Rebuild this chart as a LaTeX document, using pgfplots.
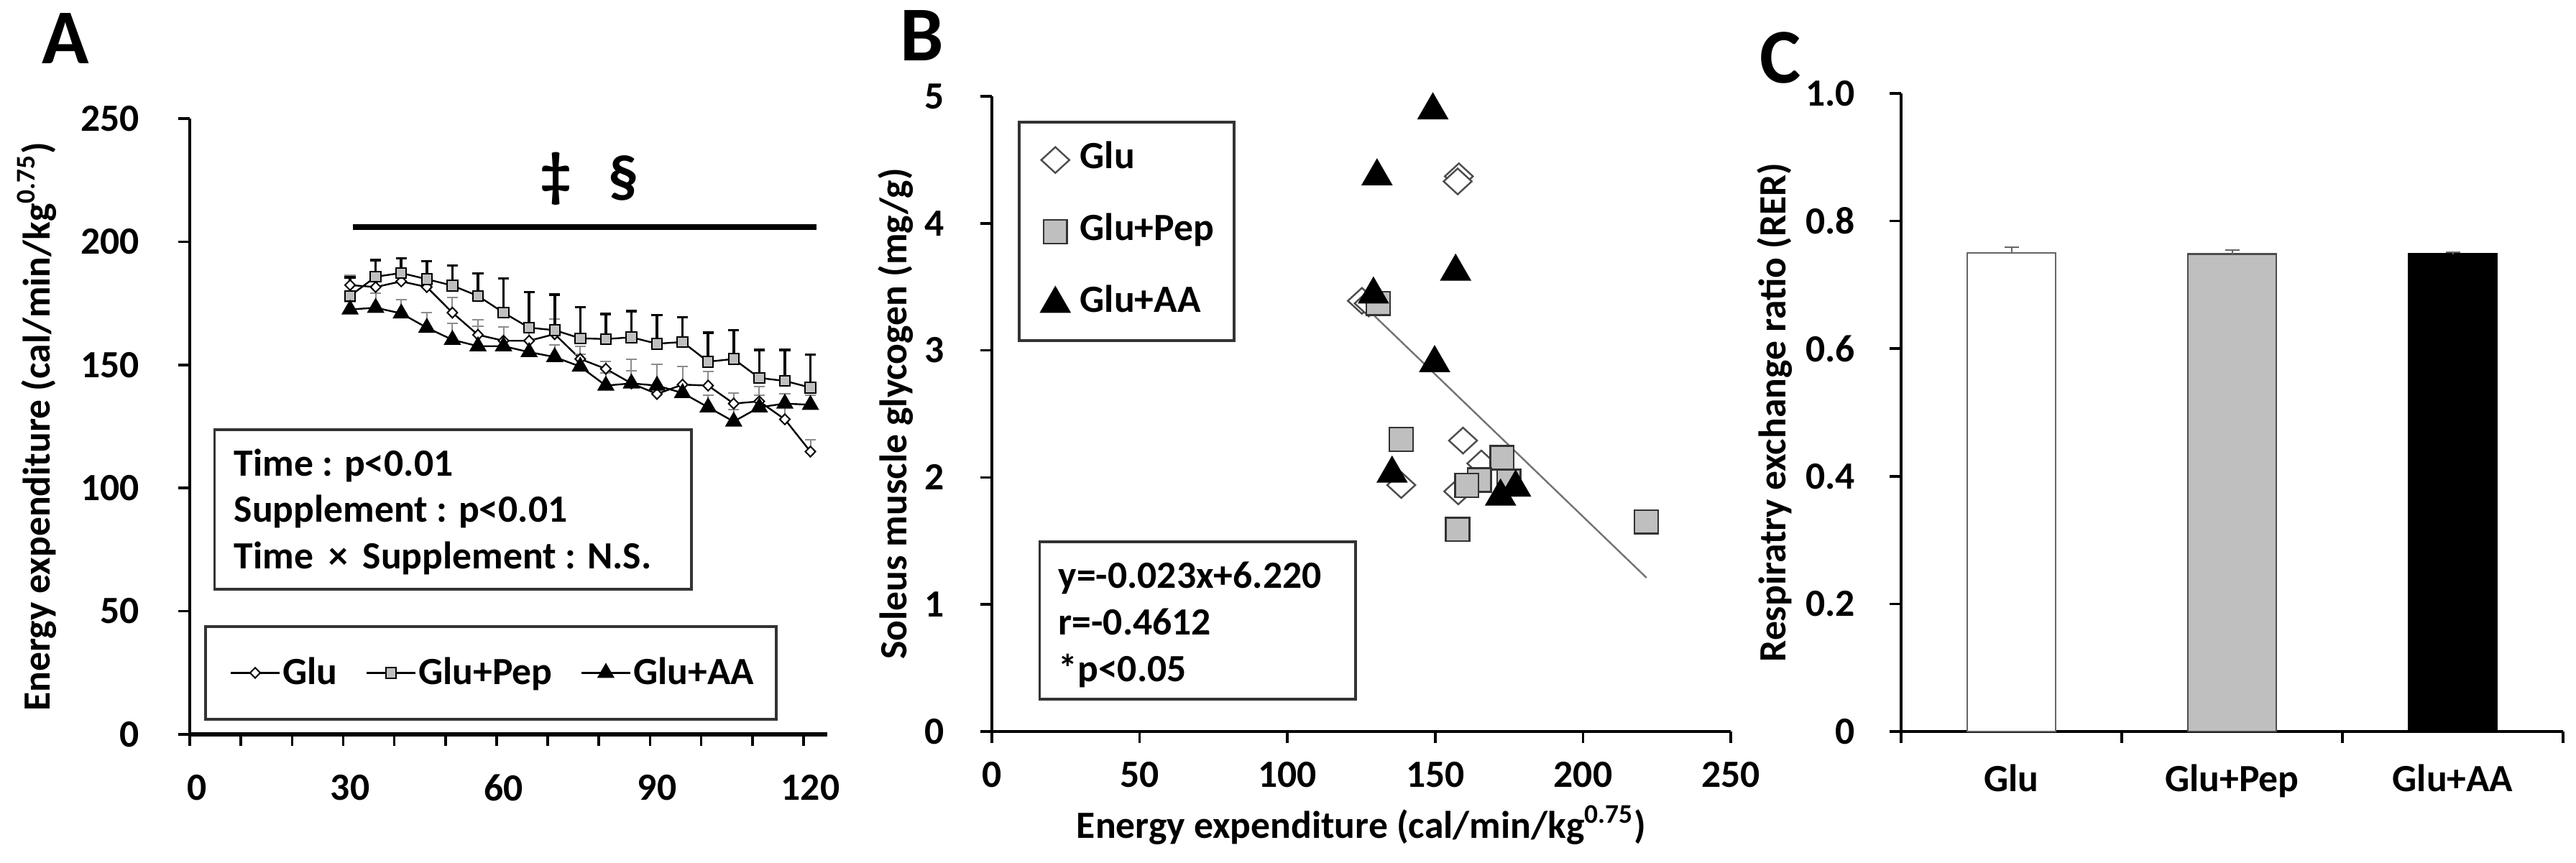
\documentclass[border=0pt]{standalone}
\usepackage{fontspec}
\setmainfont{Carlito}
\usepackage{pgfplots}
\usepackage{pgfplotstable}
\pgfplotsset{compat=1.18}
\newcommand\fT{\fontsize{13.4bp}{15bp}\selectfont\bfseries}
\newcommand\fP{\fontsize{27bp}{30bp}\selectfont\bfseries}

\pgfplotstableread{
t v e
30 182.4 4
35 181.6 4
40 183.9 4
45 181.6 4
50 171.2 6.3
55 162.2 6.1
60 159.8 5.6
65 159.8 5
70 162.5 6.1
75 152.4 5.2
80 148.4 3
85 142.5 9.8
90 138.2 12
95 142.0 7.3
100 141.6 5.8
105 134.3 4.3
110 135.2 5.9
115 127.9 5
120 114.8 4.9
}\gluA
\pgfplotstableread{
t v e
30 178.0 7.5
35 185.8 6.8
40 187.3 6.0
45 184.8 7.3
50 182.2 8.2
55 178.0 9.1
60 171.2 13.9
65 165.1 14.4
70 164.1 14.4
75 160.8 12.6
80 160.5 10.2
85 161.2 10.7
90 158.6 11.6
95 159.3 10.0
100 151.3 11.7
105 152.4 11.7
110 144.7 11.3
115 143.5 12.5
120 140.8 13.4
}\pepA
\pgfplotstableread{
t v e
30 172.5 3
35 173.2 5.8
40 170.9 5.7
45 165.1 6.1
50 160.2 6.6
55 157.6 8
60 157.6 7.8
65 155.2 5
70 153.2 5
75 149.3 5
80 141.6 5
85 142.5 5
90 141.6 8.7
95 138.6 10.7
100 132.8 5
105 127.0 5
110 132.8 5
115 134.3 4
120 133.8 4
}\aaA

\pgfplotsset{
  myaxis/.style={
    scale only axis,
    axis x line=bottom, axis y line=left,
    axis line style={-, line width=1bp, black},
    tick align=outside,
    major tick length=4bp,
    minor tick length=4bp,
    tick style={line width=0.9bp, black},
    /pgf/number format/assume math mode=true,
    tick label style={font=\fT},
    label style={font=\fT},
    clip=false,
  }
}

\begin{document}
\begin{tikzpicture}[x=1bp,y=1bp]
\path[use as bounding box] (0,0) rectangle (896,300);

% ---------------- Panel A ----------------
\begin{axis}[myaxis,
  at={(66bp,44.5bp)}, anchor=south west,
  width=221.75bp, height=214.25bp,
  xmin=-1.35, xmax=123.3, ymin=0, ymax=250,
  x axis line style={line width=1.6bp},
  xtick={-1.35,8.65,...,118.7}, xticklabels={},
  extra x ticks={0,30,60,90,120},
  extra x tick labels={0,30,60,90,120},
  extra x tick style={major tick length=0pt},
  xticklabel style={yshift=-10.5bp},
  yticklabel style={xshift=-10bp},
  ytick={0,50,...,250},
  ylabel={Energy expenditure (cal/min/kg\textsuperscript{0.75})},
  ylabel style={at={(axis description cs:-0.24,0.5)}, anchor=center},
  legend columns=3,
  legend style={draw=none, fill=none, at={(axis description cs:0.062,0.0999)},
    anchor=west, inner sep=0pt, font=\fT,
    nodes={inner sep=0.8bp},
    /tikz/every even column/.append style={column sep=9bp}},
]
\addplot[black, line width=0.6bp, mark=diamond*, mark size=1.8bp,
  mark options={fill=white, xscale=1.3, line width=0.5bp},
  error bars/.cd, y dir=plus, y explicit,
  error bar style={black!45, line width=0.5bp},
  error mark options={rotate=90, mark size=1.9bp, black!45, line width=0.5bp}]
  table[x=t, y=v, y error=e] {\gluA};
\addlegendentry{Glu}
\addplot[black, line width=0.6bp, mark=square*, mark size=1.8bp,
  mark options={fill=black!25, line width=0.5bp},
  error bars/.cd, y dir=plus, y explicit,
  error bar style={black, line width=0.9bp},
  error mark options={rotate=90, mark size=1.9bp, black, line width=0.9bp}]
  table[x=t, y=v, y error=e] {\pepA};
\addlegendentry{Glu+Pep}
\addplot[black, line width=0.6bp, mark=triangle*, mark size=2.9bp,
  mark options={fill=black},
  error bars/.cd, y dir=plus, y explicit,
  error bar style={black!45, line width=0.5bp},
  error mark options={rotate=90, mark size=1.9bp, black!45, line width=0.5bp}]
  table[x=t, y=v, y error=e] {\aaA};
\addlegendentry{Glu+AA}
\addplot[black, line width=1.9bp, forget plot] coordinates {(30.6,206) (121.2,206)};
\end{axis}
\draw[black!80, line width=0.8bp] (74.6,95) rectangle (240.5,150.5);
\node[anchor=base west, inner sep=0, font=\fT] at (81.25,134.5) {Time : p<0.01};
\node[anchor=base west, inner sep=0, font=\fT] at (81.25,118.5) {Supplement : p<0.01};
\node[anchor=base west, inner sep=0, font=\fT] at (81.25,102.25) {Time \,×\, Supplement : N.S.};
\draw[black!80, line width=0.8bp] (71.5,49.75) rectangle (270,82);
\node[font=\fontsize{21bp}{24bp}\selectfont\bfseries, inner sep=0] at (193.25,237.9) {‡};
\node[font=\fontsize{21bp}{24bp}\selectfont\bfseries, inner sep=0] at (216.75,237.9) {§};
\node[anchor=base west, inner sep=0, font=\fP] at (14.5,278) {A};

% ---------------- Panel B ----------------
\begin{axis}[myaxis,
  at={(345bp,45.5bp)}, anchor=south west,
  width=257bp, height=221bp,
  xmin=0, xmax=250, ymin=0, ymax=5,
  xtick={0,50,...,250}, ytick={0,1,...,5},
  xticklabel style={yshift=-3bp},
  yticklabel style={xshift=-9bp},
  xlabel={Energy expenditure (cal/min/kg\textsuperscript{0.75})},
  xlabel style={at={(axis description cs:0.5,-0.147)}, anchor=center},
  ylabel={Soleus muscle glycogen (mg/g)},
  ylabel style={at={(axis description cs:-0.1304,0.5)}, anchor=center},
  legend style={draw=none, fill=none, at={(axis description cs:0.0652,0.93)},
    anchor=north west, inner sep=0pt, font=\fT, row sep=12bp,
    nodes={inner sep=0.5bp, text height=9bp, text depth=3bp},
    /tikz/every odd column/.append style={column sep=3bp}},
  legend cell align=left,
  legend image code/.code={\draw[#1] plot coordinates {(0bp,0bp)};},
]
\addplot[only marks, mark=diamond*, mark size=4.5bp,
  mark options={fill=white, draw=black!70, xscale=1.45, line width=0.6bp}]
  coordinates {(158.0,4.37) (157.6,4.33) (125.2,3.39) (127.5,3.37) (159.4,2.29)
               (165.6,2.11) (138.5,1.94) (157.8,1.89)};
\addlegendentry{Glu}
\addplot[only marks, mark=square*, mark size=4.1bp,
  mark options={fill=black!25, draw=black!80, line width=0.6bp}]
  coordinates {(130.7,3.37) (138.5,2.30) (172.6,2.155) (164.9,1.98)
               (160.7,1.937) (174.9,1.97) (157.6,1.59) (221.4,1.65)};
\addlegendentry{Glu+Pep}
\addplot[only marks, mark=triangle*, mark size=5.9bp,
  mark options={fill=black, draw=black}]
  coordinates {(149.2,4.89) (130.3,4.37) (156.9,3.62) (129.1,3.44)
               (149.8,2.90) (135.4,2.03) (172.1,1.85) (177.2,1.92)};
\addlegendentry{Glu+AA}
\addplot[black!55, line width=0.6bp, forget plot] coordinates {(129.5,3.27) (221.5,1.21)};
\end{axis}
\draw[black!80, line width=0.8bp] (354.5,181.5) rectangle (429.25,257.5);
\draw[black!80, line width=0.8bp] (361.6,56.75) rectangle (471.5,111.5);
\node[anchor=base west, inner sep=0, font=\fT] at (368,95.5) {y=-0.023x+6.220};
\node[anchor=base west, inner sep=0, font=\fT] at (368,79.25) {r=-0.4612};
\node[anchor=base west, inner sep=0, font=\fT] at (368,63) {*p<0.05};
\node[anchor=base west, inner sep=0, font=\fP] at (313,279) {B};

% ---------------- Panel C ----------------
\begin{axis}[myaxis,
  at={(661.25bp,45.5bp)}, anchor=south west,
  width=230.25bp, height=222bp,
  xmin=0.5, xmax=3.5, ymin=0, ymax=1,
  xtick={0.5,1.5,2.5,3.5}, xticklabels={},
  extra x ticks={1,2,3},
  extra x tick labels={Glu,Glu+Pep,Glu+AA},
  extra x tick style={major tick length=0pt},
  xticklabel style={yshift=-8bp},
  yticklabel style={xshift=-8.5bp},
  ytick={0,0.2,0.4,0.6,0.8,1.0},
  yticklabels={0,0.2,0.4,0.6,0.8,1.0},
  ylabel={Respiratry exchange ratio (RER)},
  ylabel style={at={(axis description cs:-0.1911,0.5)}, anchor=center},
]
\addplot[ybar, bar width=30.75bp, bar shift=0pt, fill=white, draw=black!60, line width=0.7bp,
  error bars/.cd, y dir=plus, y explicit,
  error bar style={black!60, line width=0.5bp},
  error mark options={rotate=90, mark size=2.5bp, black!60, line width=0.5bp}]
  coordinates {(1,0.750) +- (0,0.009)};
\addplot[ybar, bar width=30.75bp, bar shift=0pt, fill=black!25, draw=black!70, line width=0.7bp,
  error bars/.cd, y dir=plus, y explicit,
  error bar style={black!60, line width=0.5bp},
  error mark options={rotate=90, mark size=2.5bp, black!60, line width=0.5bp}]
  coordinates {(2,0.748) +- (0,0.007)};
\addplot[ybar, bar width=30.75bp, bar shift=0pt, fill=black, draw=black, line width=0.7bp,
  error bars/.cd, y dir=plus, y explicit,
  error bar style={black!60, line width=0.5bp},
  error mark options={rotate=90, mark size=2.5bp, black!60, line width=0.5bp}]
  coordinates {(3,0.748) +- (0,0.003)};
\end{axis}
\node[anchor=base west, inner sep=0, font=\fP] at (612,271.25) {C};
\end{tikzpicture}
\end{document}
